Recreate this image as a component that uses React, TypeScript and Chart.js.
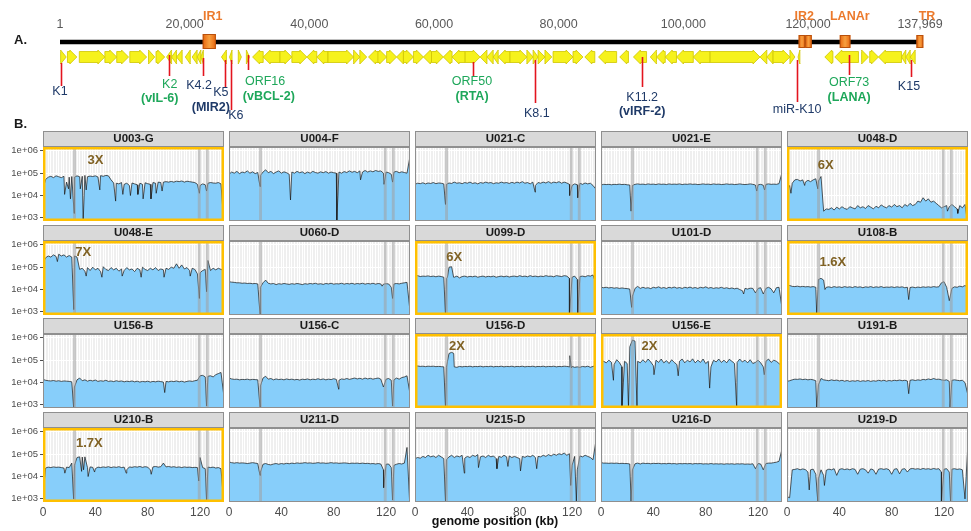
import { useEffect, useRef } from 'react';
import { Chart, registerables } from 'chart.js';

Chart.register(...registerables);

const FONT = '"Liberation Sans", Arial, Helvetica, sans-serif';
const NARROW = '"Liberation Sans Narrow", "Liberation Sans", Arial, sans-serif';
Chart.defaults.font.family = FONT;

// ---------------- Panel A : genome map ----------------
const GENOME_LENGTH = 137969;
const GENOME_TICKS = [1, 20000, 40000, 60000, 80000, 100000, 120000, 137969];

// genes: [start kb, end kb, strand]
const GENES: [number, number, number][] = [
  [0.1, 1.0, 1], [1.2, 2.7, 1], [3.1, 7.2, 1], [7.2, 9.1, 1], [9.1, 11.0, 1], [11.2, 13.9, 1],
  [14.2, 15.2, 1], [15.4, 16.8, 1], [17.1, 17.9, -1], [17.9, 18.7, -1], [18.7, 19.6, -1],
  [20.1, 20.9, -1], [21.2, 22.0, -1], [22.0, 22.6, -1], [22.6, 23.0, -1], [25.9, 26.7, -1],
  [27.2, 27.6, -1], [28.6, 29.1, 1], [29.9, 30.4, 1], [30.9, 32.6, -1], [32.6, 35.3, -1],
  [35.3, 37.2, 1], [37.2, 39.6, 1], [39.6, 41.2, -1], [41.2, 43.0, -1], [43.0, 47.1, 1],
  [47.1, 48.1, 1], [48.1, 49.2, 1], [49.5, 51.1, -1], [51.0, 52.4, 1], [52.4, 54.0, 1],
  [54.0, 55.1, -1], [55.1, 56.7, 1], [56.7, 58.3, 1], [58.3, 59.6, -1], [59.6, 61.5, 1],
  [61.5, 62.9, -1], [62.9, 65.0, -1], [65.0, 67.4, 1], [67.4, 68.5, -1], [68.5, 69.5, -1],
  [69.5, 70.3, -1], [70.3, 72.2, -1], [72.2, 74.9, 1], [74.9, 75.9, 1], [75.9, 76.7, 1],
  [76.7, 77.8, 1], [77.8, 78.9, 1], [79.1, 82.3, 1], [82.3, 83.9, 1], [84.2, 85.8, -1],
  [86.4, 89.3, -1], [89.8, 91.2, -1], [92.0, 94.1, -1], [94.7, 95.7, -1], [95.7, 97.1, -1],
  [97.1, 98.9, -1], [98.9, 101.6, -1], [101.6, 104.3, -1], [104.3, 112.3, 1], [112.3, 113.4, -1],
  [113.4, 114.4, -1], [114.4, 117.1, 1], [117.1, 117.9, 1], [118.4, 118.7, -1], [122.7, 124.0, -1],
  [124.3, 128.1, -1], [128.6, 129.7, 1], [129.9, 131.3, 1], [131.3, 135.0, -1], [135.0, 135.7, -1],
  [135.7, 136.4, -1], [136.4, 137.2, -1],
];

const REPEAT_BOXES: [number, number][] = [[22.9, 25.0], [118.5, 119.55], [119.55, 120.6], [125.1, 126.8], [137.4, 138.5]];
const REPEAT_NAMES = ['IR1', 'IR2', 'LANAr', 'TR'];
const REPEAT_NAME_KB = [24.5, 119.4, 126.7, 139.1];

const MARKER_NAMES = ['K1', 'K2', 'K4.2', 'K5', 'K6', 'ORF16', 'ORF50', 'K8.1', 'K11.2', 'miR-K10', 'ORF73', 'K15'];
const MARKER_KB = [0.1, 17.5, 23.0, 26.4, 27.5, 30.1, 66.3, 76.2, 93.4, 118.2, 126.6, 136.5];
const MARKER_PRODUCTS = ['', '(vIL-6)', '(MIR2)', '', '', '(vBCL-2)', '(RTA)', '', '(vIRF-2)', '', '(LANA)', ''];
const MARKER_GREEN = [false, true, false, false, false, true, true, false, false, false, true, false];
// layout (px below the map axis): line top, line bottom, name y, product y, name kb, product kb
const MARKER_LAYOUT: number[][] = [
  [27, 50, 56, 0, 0.0, 0], [19, 40, 49, 63, 17.6, 16.0], [22, 40, 50, 72, 22.3, 24.2],
  [24, 51, 57, 0, 25.8, 0], [24, 74, 80, 0, 28.2, 0], [19, 34, 46, 61, 32.9, 33.5],
  [26, 40, 46, 61, 66.1, 66.1], [24, 67, 78, 0, 76.5, 0], [21, 51, 62, 76, 93.4, 93.4],
  [24, 66, 74, 0, 118.25, 0], [19, 39, 47, 62, 126.6, 126.6], [24, 41, 51, 0, 136.2, 0],
];

// ---------------- Panel B : coverage (log10 depth, every 2 kb from 0 to 138 kb) ----------------
const PANEL_NAMES = ['U003-G', 'U004-F', 'U021-C', 'U021-E', 'U048-D', 'U048-E', 'U060-D', 'U099-D', 'U101-D', 'U108-B',
  'U156-B', 'U156-C', 'U156-D', 'U156-E', 'U191-B', 'U210-B', 'U211-D', 'U215-D', 'U216-D', 'U219-D'];
const PANEL_NOTES = ['3X', '', '', '', '6X', '7X', '', '6X', '', '1.6X', '', '', '2X', '2X', '', '1.7X', '', '', '', ''];
const NOTE_KB = [40, 0, 0, 0, 29.5, 30.7, 0, 30.0, 0, 35, 0, 0, 32.0, 37.0, 0, 35.4, 0, 0, 0, 0];
const NOTE_LOG = [5.55, 0, 0, 0, 5.35, 5.64, 0, 5.42, 0, 5.22, 0, 0, 5.62, 5.62, 0, 5.5, 0, 0, 0, 0];
const REPEAT_BANDS: [number, number][] = [[23.0, 25.2], [118.3, 120.5], [124.4, 126.6]];
const X_LABELS = [0, 40, 80, 120];
const Y_TICKS = [1e3, 1e4, 1e5, 1e6];

const COV_U003G = [4.3,4.72,4.82,4.86,4.8,4.88,4.84,4.8,4.86,4.6, 4.82,4.85,4.82,4.88,4.84,4.86,4.9,4.84,4.87,4.85, 4.88,4.83,4.89,4.86,4.9,4.88,4.7,4.56,4.55,4.52, 4.58,4.5,4.55,4.45,4.56,4.52,4.48,4.55,4.5,4.57, 4.53,4.5,4.58,4.55,4.6,4.58,4.6,4.62,4.6,4.63, 4.6,4.64,4.62,4.65,4.6,4.64,4.62,4.6,4.58,4.5, 4.45,4.52,4.48,4.55,4.58,4.56,4.55,4.58,4.52,2.9];
const COV_U004F = [4.95,5.05,5.0,5.08,4.98,5.05,5.02,5.1,5.0,5.06, 4.98,5.03,4.9,5.05,5.15,5.02,5.08,4.98,5.05,5.1, 5.0,5.06,5.02,4.95,5.05,5.0,5.08,5.02,5.06,4.98, 5.05,5.0,5.08,5.03,5.0,5.06,5.02,5.07,5.0,5.05, 5.02,5.0,5.05,5.0,5.07,5.03,5.1,5.04,5.08,5.02, 5.1,5.05,5.12,5.05,5.1,5.06,5.12,5.08,5.1,5.0, 5.05,5.02,4.95,5.05,5.08,5.02,5.06,5.03,5.0,5.65];
const COV_U021C = [4.5,4.55,4.53,4.57,4.52,4.56,4.54,4.58,4.53,4.56, 4.55,4.52,4.5,4.56,4.54,4.6,4.55,4.57,4.53,4.58, 4.55,4.6,4.54,4.57,4.52,4.58,4.55,4.6,4.56,4.58, 4.53,4.57,4.55,4.6,4.56,4.58,4.54,4.59,4.55,4.6, 4.56,4.62,4.55,4.58,4.52,4.6,4.45,4.58,4.55,4.6, 4.56,4.62,4.55,4.6,4.57,4.62,4.55,4.6,4.56,4.5, 4.45,4.52,4.48,4.55,4.5,4.56,4.52,4.55,4.45,4.3];
const COV_U021E = [4.47,4.5,4.49,4.5,4.48,4.5,4.49,4.51,4.49,4.5, 4.48,4.47,4.45,4.5,4.52,4.5,4.51,4.49,4.52,4.5, 4.51,4.49,4.52,4.5,4.51,4.49,4.52,4.5,4.51,4.5, 4.52,4.49,4.51,4.5,4.52,4.5,4.51,4.49,4.5,4.52, 4.5,4.51,4.49,4.52,4.5,4.51,4.49,4.5,4.52,4.5, 4.51,4.49,4.5,4.52,4.5,4.49,4.5,4.52,4.5,4.47, 4.48,4.5,4.46,4.5,4.52,4.5,4.51,4.5,4.53,4.95];
const COV_U048D = [4.2,4.45,4.55,4.7,4.72,4.65,4.7,4.6,4.68,4.62, 4.7,4.75,4.65,4.85,3.3,3.4,3.38,3.45,3.35,3.48, 3.4,3.5,3.42,3.38,3.5,3.45,3.4,3.55,3.45,3.5, 3.42,3.55,3.48,3.4,3.52,3.45,3.58,3.5,3.45,3.55, 3.48,3.6,3.5,3.55,3.45,3.6,3.52,3.65,3.55,3.6, 3.75,3.7,3.9,3.75,3.85,3.7,3.75,3.65,3.55,3.45, 3.5,3.55,3.5,3.6,3.5,3.4,3.55,3.45,3.6,2.8];
const COV_U048E = [5.2,5.42,5.5,5.45,5.55,5.48,5.58,5.5,5.55,5.45, 5.52,5.45,5.5,5.45,4.9,4.95,4.82,4.98,4.85,5.0, 4.88,4.95,4.8,5.02,4.9,4.85,4.98,4.88,4.95,4.82, 4.92,4.85,4.98,4.88,4.92,4.8,4.95,4.88,5.0,4.9, 4.85,4.95,4.88,4.98,4.85,4.92,4.88,4.95,4.9,5.0, 4.95,5.15,4.95,5.1,4.92,4.98,4.85,4.95,4.9,4.7, 4.75,4.85,4.9,5.3,4.85,4.95,4.88,4.95,4.9,4.85];
const COV_U060D = [4.35,4.33,4.32,4.3,4.3,4.28,4.29,4.27,4.28,4.26, 4.27,4.25,4.1,4.3,4.42,4.28,4.25,4.27,4.22,4.26, 4.24,4.27,4.25,4.23,4.26,4.24,4.27,4.25,4.22,4.26, 4.24,4.27,4.25,4.28,4.24,4.26,4.23,4.27,4.25,4.28, 4.24,4.26,4.25,4.28,4.24,4.27,4.25,4.28,4.24,4.27, 4.25,4.28,4.24,4.27,4.25,4.28,4.24,4.27,4.25,4.24, 4.26,4.25,4.1,4.25,4.27,4.25,4.28,4.3,4.32,3.2];
const COV_U099D = [4.6,4.62,4.58,4.6,4.59,4.61,4.58,4.6,4.57,4.6, 4.58,4.55,4.5,5.0,5.02,4.55,4.6,4.52,4.58,4.6, 4.56,4.59,4.57,4.6,4.55,4.58,4.6,4.56,4.59,4.57, 4.6,4.55,4.58,4.6,4.57,4.6,4.56,4.59,4.6,4.57, 4.62,4.58,4.6,4.57,4.62,4.58,4.6,4.57,4.6,4.58, 4.62,4.59,4.6,4.57,4.62,4.6,4.58,4.62,4.6,4.5, 4.55,4.6,4.45,4.58,4.6,4.57,4.62,4.6,4.65,4.3];
const COV_U101D = [4.1,4.08,4.1,4.07,4.09,4.06,4.08,4.05,4.07,4.05, 4.04,4.02,3.7,4.05,4.14,4.05,4.1,4.06,4.08,4.04, 4.1,4.07,4.12,4.06,4.09,4.05,4.1,4.07,4.11,4.06, 4.09,4.05,4.1,4.07,4.11,4.06,4.09,4.05,4.1,4.07, 4.12,4.06,4.09,4.05,4.08,4.06,4.1,4.05,4.08,4.04, 4.07,4.03,4.06,4.0,3.95,4.05,4.02,4.06,4.05,3.85, 4.05,4.08,3.8,4.05,4.1,4.03,3.85,4.08,4.1,3.3];
const COV_U108B = [4.15,4.18,4.14,4.13,4.15,4.12,4.14,4.12,4.13,4.11, 4.13,4.1,4.45,4.5,4.42,4.1,4.12,4.09,4.13,4.1, 4.12,4.09,4.13,4.1,4.12,4.09,4.13,4.1,4.12,4.08, 4.12,4.1,4.13,4.09,4.12,4.1,4.13,4.09,4.11,4.1, 4.12,4.09,4.12,4.1,4.12,4.08,4.1,4.09,4.11,4.08, 4.11,4.09,4.12,4.1,4.12,4.1,4.13,4.11,4.12,4.3, 4.35,4.1,3.5,4.05,4.12,4.1,4.15,4.12,4.18,4.1];
const COV_U156B = [4.14,4.1,4.08,4.07,4.09,4.06,4.08,4.05,4.07,4.06, 4.05,4.03,3.8,4.12,4.2,4.08,4.12,4.06,4.1,4.07, 4.11,4.05,4.08,4.06,4.1,4.05,4.07,4.04,4.08,4.05, 4.07,4.03,4.06,4.04,4.07,4.03,4.06,4.02,4.05,4.03, 4.06,4.02,4.05,4.03,4.06,4.04,4.02,4.05,4.03,4.06, 4.04,4.07,4.03,4.06,4.02,4.05,4.07,4.05,4.08,4.1, 4.3,4.32,4.25,4.28,4.3,4.25,4.35,4.4,4.45,3.5];
const COV_U156C = [4.2,4.16,4.14,4.15,4.12,4.14,4.13,4.15,4.12,4.14, 4.13,4.12,3.85,4.2,4.28,4.15,4.18,4.12,4.16,4.13, 4.15,4.12,4.16,4.13,4.15,4.12,4.14,4.11,4.15,4.13, 4.16,4.12,4.15,4.13,4.17,4.13,4.16,4.12,4.15,4.13, 4.17,4.14,4.1,4.16,4.14,4.18,4.14,4.17,4.2,4.16, 4.19,4.15,4.2,4.16,4.19,4.15,4.18,4.2,4.15,3.8, 4.15,4.18,4.1,4.12,4.2,4.15,4.22,4.25,4.3,3.6];
const COV_U156D = [4.72,4.74,4.72,4.73,4.71,4.73,4.72,4.73,4.71,4.72, 4.71,4.7,4.68,5.3,5.35,4.7,4.68,4.72,4.7,4.72, 4.71,4.73,4.7,4.72,4.71,4.73,4.7,4.72,4.71,4.73, 4.7,4.72,4.71,4.73,4.7,4.72,4.71,4.73,4.7,4.72, 4.71,4.73,4.7,4.72,4.71,4.73,4.7,4.72,4.71,4.73, 4.7,4.72,4.71,4.73,4.7,4.72,4.71,4.73,4.72,4.7, 4.72,4.68,4.7,4.68,4.72,4.7,4.73,4.68,4.72,4.75];
const COV_U156E = [4.85,4.95,4.88,5.0,4.9,4.8,5.02,4.9,4.7,4.95, 4.85,5.6,5.9,5.85,4.95,4.88,5.02,4.9,5.05,4.92, 4.75,5.0,4.9,5.05,4.88,4.98,4.85,5.02,4.9,4.8, 4.95,5.05,4.88,5.0,4.92,5.06,4.88,5.0,4.9,5.05, 4.85,4.95,4.7,5.0,4.92,5.05,4.9,5.0,4.88,5.04, 4.95,4.85,4.9,5.05,4.92,5.0,4.88,5.02,4.85,4.9, 5.0,4.88,4.7,4.95,5.05,4.9,5.0,4.95,4.85,4.75];
const COV_U191B = [4.05,4.08,4.12,4.15,4.14,4.16,4.13,4.15,4.12,4.14, 4.12,4.08,3.9,4.18,4.12,4.1,4.08,4.12,4.09,4.11, 4.07,4.1,4.06,4.09,4.05,4.08,4.06,4.09,4.05,4.08, 4.06,4.09,4.05,4.08,4.06,4.1,4.07,4.1,4.06,4.09, 4.07,4.1,4.08,4.11,4.08,4.1,4.07,4.1,4.12,4.09, 4.12,4.1,4.14,4.12,4.16,4.13,4.18,4.14,4.15,4.12, 4.1,4.12,4.05,4.1,4.12,4.1,4.08,4.1,4.0,3.5];
const COV_U210B = [3.2,4.38,4.42,4.4,4.43,4.41,4.42,4.4,4.38,4.42, 4.4,4.6,4.5,4.85,4.88,4.87,4.88,4.4,4.43,4.41, 4.35,4.42,4.4,4.43,4.41,4.44,4.4,4.43,4.41,4.44, 4.4,4.42,4.3,4.43,4.41,4.44,4.42,4.45,4.41,4.44, 4.42,4.3,4.43,4.45,4.42,4.44,4.6,4.43,4.45,4.42, 4.44,4.41,4.43,4.4,4.43,4.41,4.42,4.4,4.41,4.4, 4.85,4.4,4.35,4.42,4.4,4.42,4.38,4.4,4.35,2.9];
const COV_U211D = [4.65,4.62,4.6,4.62,4.6,4.61,4.6,4.58,4.6,4.62, 4.6,4.58,4.2,4.55,4.58,4.54,4.52,4.56,4.58,4.55, 4.58,4.56,4.59,4.57,4.6,4.58,4.61,4.59,4.6,4.62, 4.6,4.61,4.59,4.6,4.62,4.6,4.61,4.59,4.6,4.62, 4.6,4.61,4.59,4.6,4.61,4.6,4.58,4.6,4.59,4.6, 4.58,4.6,4.58,4.59,4.57,4.58,4.56,4.58,4.56,4.3, 4.55,4.56,4.4,4.5,4.55,4.58,4.56,4.6,5.3,2.9];
const COV_U215D = [4.8,4.85,4.82,4.9,4.85,4.95,4.88,4.92,4.85,4.95, 4.88,4.8,4.75,4.88,4.95,4.85,4.92,4.88,4.95,4.82, 4.9,4.85,4.95,4.9,4.98,4.88,4.92,4.85,4.95,4.88, 4.92,4.8,4.9,4.86,4.95,4.88,4.92,4.85,4.9,4.85, 4.8,4.9,4.86,4.92,4.88,4.95,4.85,4.9,4.88,4.95, 4.9,4.98,4.92,5.0,4.95,5.02,4.98,5.05,4.95,5.02, 4.5,4.9,4.3,4.92,4.88,4.95,4.9,4.85,4.75,5.5];
const COV_U216D = [4.62,4.6,4.6,4.59,4.6,4.59,4.6,4.58,4.59,4.58, 4.58,4.56,4.3,4.57,4.6,4.56,4.6,4.58,4.59,4.57, 4.59,4.58,4.59,4.57,4.58,4.57,4.59,4.57,4.58,4.56, 4.58,4.57,4.58,4.57,4.58,4.56,4.58,4.57,4.58,4.56, 4.57,4.56,4.58,4.56,4.57,4.56,4.57,4.55,4.57,4.56, 4.57,4.55,4.57,4.56,4.57,4.55,4.56,4.55,4.57,4.35, 4.58,4.56,4.3,4.58,4.6,4.6,4.62,4.64,4.68,5.15];
const COV_U219D = [3.1,3.05,4.3,4.32,4.35,4.3,4.34,4.31,4.2,4.3, 4.33,4.1,3.9,4.3,4.05,4.28,4.33,4.3,4.35,4.05, 4.32,4.35,4.31,4.34,4.3,4.35,4.32,4.1,4.33,4.35, 4.3,4.15,4.34,4.3,4.1,4.33,4.35,4.32,4.35,4.3, 4.1,4.33,4.35,4.12,4.33,4.35,4.2,4.34,4.36,4.33, 4.35,4.32,4.36,4.33,4.35,4.32,4.36,4.33,4.35,4.2, 4.33,4.35,4.2,4.33,4.35,4.32,4.34,4.3,3.0,5.2];

// sharp drops / spikes read between the 2 kb samples: [kb, log10 depth]
const DIP_U003G = [[16.5,4.05],[19.5,4.3],[21,3.85],[23.8,3.2],[28.5,4.3],[30.7,2.85],[33,4.25],[43.4,4.25],[55.5,3.75],[61,4.05],[66.8,4.0],[72.5,4.05],[76.5,3.85],[82.5,3.85],[86.5,4.1],[91,4.2],[119.5,4.1],[125,4.2]];
const DIP_U004F = [[23.7,4.4],[47,3.8],[82.4,2.9],[100.5,4.7],[118.5,4.5],[125,4.6]];
const DIP_U021C = [[23.3,3.6],[91.8,4.15],[118.2,4.0],[124.4,3.9]];
const DIP_U021E = [[23,3.3],[119,4.2],[125,4.25]];
const DIP_U048D = [[3,4.1],[13.5,4.45],[23.5,4.3],[122.6,3.3],[130.5,3.2]];
const DIP_U048E = [[11,5.25],[23.5,3.1],[33,4.6],[45,4.55],[60.5,4.6],[75,4.55],[92.5,4.55],[112.5,4.6],[119.5,3.6],[125,3.9]];
const DIP_U060D = [[23.7,2.9],[117,4.15],[125,3.6]];
const DIP_U099D = [[23.3,2.85],[24.8,4.55],[29.5,4.55],[118,2.85],[124.4,2.9]];
const DIP_U101D = [[23.4,3.2],[109,3.8]];
const DIP_U108B = [[22.7,2.9],[29,4.0],[93,3.55]];
const DIP_U156B = [[23.4,2.9],[93,3.55],[125,2.95]];
const DIP_U156C = [[23.7,2.9],[83.8,3.7],[125,2.95]];
const DIP_U156D = [[23.3,2.9],[24.8,4.95],[29.6,5.3],[118.3,5.2],[119.5,4.65]];
const DIP_U156E = [[9.5,4.1],[16,2.85],[21,2.9],[27.5,2.85],[40.5,4.35],[59,4.3],[83,3.75],[103.7,2.85],[124.8,4.35]];
const DIP_U191B = [[22.7,2.9],[93,3.5],[124.6,2.9]];
const DIP_U210B = [[16.7,4.15],[23.4,3.0],[29.5,4.23],[31,4.3],[34.5,4.0],[39.4,4.2],[63.6,4.15],[82.7,4.1],[119,3.8],[125,2.95]];
const DIP_U211D = [[23.7,4.05],[118.2,3.5],[125,2.95]];
const DIP_U215D = [[23.3,2.9],[37.7,4.15],[48.5,4.4],[62.6,4.35],[71,4.45],[80.6,4.25],[93,4.35],[119,3.6],[123.3,2.9]];
const DIP_U216D = [[23,2.9]];
const DIP_U219D = [[17,3.4],[23.5,2.9],[28.6,3.6],[118,2.9],[125,2.9]];

const PANEL_COVERAGE = [COV_U003G, COV_U004F, COV_U021C, COV_U021E, COV_U048D, COV_U048E, COV_U060D, COV_U099D, COV_U101D, COV_U108B,
  COV_U156B, COV_U156C, COV_U156D, COV_U156E, COV_U191B, COV_U210B, COV_U211D, COV_U215D, COV_U216D, COV_U219D];
const PANEL_DIPS = [DIP_U003G, DIP_U004F, DIP_U021C, DIP_U021E, DIP_U048D, DIP_U048E, DIP_U060D, DIP_U099D, DIP_U101D, DIP_U108B,
  DIP_U156B, DIP_U156C, DIP_U156D, DIP_U156E, DIP_U191B, DIP_U210B, DIP_U211D, DIP_U215D, DIP_U216D, DIP_U219D];

// ---------------- layout ----------------
const COV_STEP = 2;
const X_MAX = 138.3;
const Y_MIN_LOG = 2.86;
const Y_MAX_LOG = 6.17;
const PLOT_W = 181;
const PLOT_H = 74;
const STRIP_H = 16;
const LEFT_PAD = 8;
const Y_AXIS_W = 43;
const X_AXIS_H = 22;

function panelGeom(i: number) {
  const col = i % 5;
  const row = Math.floor(i / 5);
  const plotLeft = 43 + 186 * col;
  const top = 131 + Math.round(93.5 * row);
  const left = col === 0 ? 0 : plotLeft - LEFT_PAD;
  const w = col === 0 ? plotLeft + PLOT_W : PLOT_W + LEFT_PAD;
  const h = STRIP_H + PLOT_H + (row === 3 ? X_AXIS_H : 0);
  return { col, row, left, top, w, h };
}

function buildPoints(cov: number[], dips: number[][]) {
  const pts = cov.map((v, i) => ({ x: i * COV_STEP, y: Math.pow(10, v) }));
  dips.forEach(([k, v]) => pts.push({ x: k, y: Math.pow(10, v) }));
  pts.sort((a, b) => a.x - b.x);
  return pts;
}

function drawGene(ctx: CanvasRenderingContext2D, x1: number, x2: number, yc: number, dir: number) {
  const bodyH = 11, headH = 14;
  const len = Math.max(x2 - x1, 1.5);
  const head = Math.min(len, 7);
  ctx.beginPath();
  if (dir > 0) {
    const hx = x1 + len - head;
    ctx.moveTo(x1, yc - bodyH / 2);
    ctx.lineTo(hx, yc - bodyH / 2);
    ctx.lineTo(hx, yc - headH / 2);
    ctx.lineTo(x1 + len, yc);
    ctx.lineTo(hx, yc + headH / 2);
    ctx.lineTo(hx, yc + bodyH / 2);
    ctx.lineTo(x1, yc + bodyH / 2);
  } else {
    const end = x1 + len;
    const hx = x1 + head;
    ctx.moveTo(end, yc - bodyH / 2);
    ctx.lineTo(hx, yc - bodyH / 2);
    ctx.lineTo(hx, yc - headH / 2);
    ctx.lineTo(x1, yc);
    ctx.lineTo(hx, yc + headH / 2);
    ctx.lineTo(hx, yc + bodyH / 2);
    ctx.lineTo(end, yc + bodyH / 2);
  }
  ctx.closePath();
  ctx.fill();
  ctx.stroke();
}

const genomeDeco = {
  id: 'genomeDeco',
  afterDatasetsDraw(chart: any) {
    const { ctx, scales } = chart;
    const x = scales.x, y = scales.y;
    const px = (kb: number) => x.getPixelForValue(kb * 1000);
    const py = (v: number) => y.getPixelForValue(v);
    ctx.save();
    ctx.fillStyle = '#F6F21C';
    ctx.strokeStyle = '#CFC500';
    ctx.lineWidth = 0.8;
    GENES.forEach(([s, e, d]) => drawGene(ctx, px(s), px(e), py(21), d));
    MARKER_NAMES.forEach((name, i) => {
      const [lt, lb, ny, pyy, nkb, pkb] = MARKER_LAYOUT[i];
      const xx = Math.round(px(MARKER_KB[i])) + 0.5;
      ctx.strokeStyle = '#E3141E';
      ctx.lineWidth = 1.6;
      ctx.beginPath();
      ctx.moveTo(xx, py(lt));
      ctx.lineTo(xx, py(lb));
      ctx.stroke();
      const color = MARKER_GREEN[i] ? '#1EA75A' : '#1F3A68';
      ctx.fillStyle = color;
      ctx.textAlign = 'center';
      ctx.textBaseline = 'middle';
      ctx.font = `12.5px ${FONT}`;
      ctx.fillText(name, px(nkb), py(ny));
      if (MARKER_PRODUCTS[i]) {
        ctx.font = `bold 12.5px ${FONT}`;
        ctx.fillText(MARKER_PRODUCTS[i], px(pkb), py(pyy));
      }
    });
    REPEAT_BOXES.forEach(([s, e], i) => {
      const x1 = px(s), x2 = px(e);
      const t = i === 0 ? py(-2) : py(-1);
      const b = i === 0 ? py(13) : py(12);
      const g = ctx.createLinearGradient(x1, 0, x2, 0);
      g.addColorStop(0, '#E8650E');
      g.addColorStop(0.5, '#F7A040');
      g.addColorStop(1, '#E8650E');
      ctx.fillStyle = g;
      ctx.fillRect(x1, t, x2 - x1, b - t);
      ctx.strokeStyle = '#B8500C';
      ctx.lineWidth = 1;
      ctx.strokeRect(x1 + 0.5, t + 0.5, x2 - x1 - 1, b - t - 1);
    });
    ctx.fillStyle = '#EC7A2C';
    ctx.font = `bold 12.5px ${FONT}`;
    ctx.textAlign = 'center';
    ctx.textBaseline = 'middle';
    REPEAT_NAMES.forEach((n, i) => ctx.fillText(n, px(REPEAT_NAME_KB[i]), py(-19)));
    ctx.restore();
  },
};

const panelDeco = {
  id: 'panelDeco',
  beforeDraw(chart: any, _a: any, opts: any) {
    const { ctx, chartArea: a } = chart;
    ctx.save();
    ctx.fillStyle = '#EFEFEF';
    ctx.fillRect(a.left, a.top, a.right - a.left, a.bottom - a.top);
    ctx.fillStyle = '#D9D9D9';
    ctx.fillRect(a.left, a.top - STRIP_H, a.right - a.left, STRIP_H - 1);
    ctx.strokeStyle = '#8F8F8F';
    ctx.lineWidth = 1;
    ctx.strokeRect(a.left + 0.5, a.top - STRIP_H + 0.5, a.right - a.left - 1, STRIP_H - 1);
    ctx.fillStyle = '#1A1A1A';
    ctx.font = `bold 11.5px ${FONT}`;
    ctx.textAlign = 'center';
    ctx.textBaseline = 'middle';
    ctx.fillText(opts.title, (a.left + a.right) / 2, a.top - STRIP_H / 2);
    ctx.restore();
  },
  afterDatasetsDraw(chart: any, _a: any, opts: any) {
    const { ctx, chartArea: a, scales } = chart;
    const x = scales.x, y = scales.y;
    ctx.save();
    ctx.fillStyle = 'rgba(160,160,160,0.55)';
    REPEAT_BANDS.forEach(([s, e]) => {
      const x1 = x.getPixelForValue(s), x2 = x.getPixelForValue(e);
      ctx.fillRect(x1, a.top, x2 - x1, a.bottom - a.top);
    });
    ctx.strokeStyle = '#8F8F8F';
    ctx.lineWidth = 1;
    ctx.strokeRect(a.left + 0.5, a.top + 0.5, a.right - a.left - 1, a.bottom - a.top - 1);
    if (opts.note) {
      ctx.strokeStyle = '#FFC000';
      ctx.lineWidth = 2.5;
      ctx.strokeRect(a.left + 1.25, a.top + 1.25, a.right - a.left - 2.5, a.bottom - a.top - 2.5);
      ctx.fillStyle = '#806224';
      ctx.font = `bold 13px ${FONT}`;
      ctx.textAlign = 'center';
      ctx.textBaseline = 'middle';
      ctx.fillText(opts.note, x.getPixelForValue(opts.noteKb), y.getPixelForValue(Math.pow(10, opts.noteLog)));
    }
    ctx.restore();
  },
};

function makeGenomeChart(canvas: HTMLCanvasElement) {
  return new Chart(canvas, {
    type: 'line',
    data: {
      datasets: [{
        data: [{ x: 1, y: 6 }, { x: GENOME_LENGTH, y: 6 }],
        borderColor: '#000000',
        borderWidth: 4.5,
        borderCapStyle: 'butt',
        pointRadius: 0,
        fill: false,
      }],
    },
    options: {
      animation: false,
      responsive: false,
      events: [],
      layout: { padding: { left: 60, right: 51, top: 0, bottom: 0 }, autoPadding: false },
      plugins: { legend: { display: false }, tooltip: { enabled: false } },
      scales: {
        x: {
          type: 'linear', position: 'top', min: 1, max: GENOME_LENGTH,
          afterBuildTicks: (s: any) => { s.ticks = GENOME_TICKS.map((v) => ({ value: v })); },
          afterFit: (s: any) => { s.height = 36; s.paddingLeft = 0; s.paddingRight = 0; },
          grid: { display: false, drawTicks: false },
          border: { display: false },
          ticks: {
            autoSkip: false, maxRotation: 0, padding: 4, color: '#595959', font: { size: 12.5, family: FONT },
            callback: (v: any) => (v === 1 ? '1' : Number(v).toLocaleString('en-US')),
          },
        },
        y: { type: 'linear', min: 0, max: 88, reverse: true, display: false },
      },
    } as any,
    plugins: [genomeDeco],
  } as any);
}

function makePanelChart(canvas: HTMLCanvasElement, i: number) {
  const { col, row } = panelGeom(i);
  return new Chart(canvas, {
    type: 'line',
    data: {
      datasets: [{
        data: buildPoints(PANEL_COVERAGE[i], PANEL_DIPS[i]),
        borderColor: '#151515',
        borderWidth: 0.7,
        backgroundColor: '#87CEFA',
        fill: 'start',
        pointRadius: 0,
        tension: 0,
      }],
    },
    options: {
      animation: false,
      responsive: false,
      events: [],
      layout: { padding: { top: STRIP_H, left: col === 0 ? 0 : LEFT_PAD, right: 0, bottom: 0 }, autoPadding: false },
      plugins: {
        legend: { display: false },
        tooltip: { enabled: false },
        panelDeco: { title: PANEL_NAMES[i], note: PANEL_NOTES[i], noteKb: NOTE_KB[i], noteLog: NOTE_LOG[i] },
      },
      scales: {
        x: {
          type: 'linear', min: 0, max: X_MAX,
          afterBuildTicks: (s: any) => {
            const t = [];
            for (let v = 0; v <= 138; v += 2) t.push({ value: v });
            s.ticks = t;
          },
          afterFit: (s: any) => {
            s.height = row === 3 ? X_AXIS_H : 0;
            s.paddingLeft = 0; s.paddingRight = 0; s.paddingTop = 0; s.paddingBottom = 0;
          },
          grid: { color: '#FFFFFF', lineWidth: 1, drawTicks: false },
          border: { display: false },
          ticks: {
            display: row === 3, autoSkip: false, maxRotation: 0, padding: 3, color: '#4D4D4D',
            font: { size: 12, family: FONT },
            callback: (v: any) => (X_LABELS.includes(v) ? String(v) : ''),
          },
        },
        y: {
          type: 'logarithmic', min: Math.pow(10, Y_MIN_LOG), max: Math.pow(10, Y_MAX_LOG),
          afterBuildTicks: (s: any) => { s.ticks = Y_TICKS.map((v) => ({ value: v })); },
          afterFit: (s: any) => {
            s.width = col === 0 ? Y_AXIS_W : 0;
            s.paddingTop = 0; s.paddingBottom = 0; s.paddingLeft = 0; s.paddingRight = 0;
          },
          grid: { color: '#FFFFFF', lineWidth: 1, drawTicks: col === 0, tickLength: 3, tickColor: '#4D4D4D' },
          border: { display: false },
          ticks: {
            display: col === 0, padding: 2, color: '#4D4D4D', font: { size: 9.5, family: NARROW },
            callback: (v: any) => '1e+0' + Math.round(Math.log10(v)),
          },
        },
      },
    } as any,
    plugins: [panelDeco],
  } as any);
}

export default function App() {
  const mapRef = useRef<HTMLCanvasElement | null>(null);
  const panelRefs = useRef<(HTMLCanvasElement | null)[]>([]);

  useEffect(() => {
    const charts: Chart[] = [];
    if (mapRef.current) charts.push(makeGenomeChart(mapRef.current));
    PANEL_NAMES.forEach((_, i) => {
      const c = panelRefs.current[i];
      if (c) charts.push(makePanelChart(c, i));
    });
    return () => charts.forEach((c) => c.destroy());
  }, []);

  return (
    <div style={{ position: 'absolute', left: 0, top: 0, width: 971, height: 531, background: '#FFFFFF', overflow: 'hidden', fontFamily: FONT }}>
      <canvas ref={mapRef} width={971} height={124} style={{ position: 'absolute', left: 0, top: 0, width: 971, height: 124 }} />
      {PANEL_NAMES.map((name, i) => {
        const g = panelGeom(i);
        return (
          <canvas
            key={name}
            ref={(el) => { panelRefs.current[i] = el; }}
            width={g.w}
            height={g.h}
            style={{ position: 'absolute', left: g.left, top: g.top, width: g.w, height: g.h }}
          />
        );
      })}
      <div style={{ position: 'absolute', left: 14, top: 32, font: `bold 13px ${FONT}`, color: '#1A1A1A' }}>A.</div>
      <div style={{ position: 'absolute', left: 14, top: 116, font: `bold 13px ${FONT}`, color: '#1A1A1A' }}>B.</div>
      <div style={{ position: 'absolute', left: 395, top: 514, width: 200, textAlign: 'center', font: `bold 12.5px ${FONT}`, color: '#111' }}>
        genome position (kb)
      </div>
    </div>
  );
}
